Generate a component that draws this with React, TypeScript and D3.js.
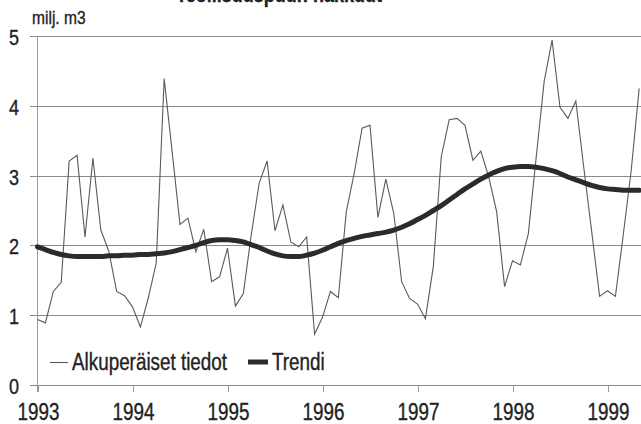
import { useEffect, useRef } from 'react';
import * as d3 from 'd3';

// monthly values from Jan 1993, milj. m3
const startYear = 1993;
const original = [
  0.94, 0.89, 1.34, 1.47, 3.21, 3.29, 2.12, 3.25, 2.22, 1.92, 1.34, 1.28,
  1.12, 0.83, 1.25, 1.75, 4.39, 3.35, 2.3, 2.39, 1.91, 2.23, 1.48, 1.55,
  1.96, 1.13, 1.31, 2.15, 2.89, 3.21, 2.21, 2.58, 2.05, 1.98, 2.12, 0.73,
  0.97, 1.34, 1.25, 2.48, 3.03, 3.68, 3.72, 2.4, 2.95, 2.46, 1.48, 1.24,
  1.16, 0.95, 1.7, 3.27, 3.8, 3.82, 3.72, 3.22, 3.35, 2.98, 2.48, 1.41,
  1.78, 1.72, 2.17, 3.27, 4.35, 4.94, 3.98, 3.82, 4.07, 3.12, 2.2, 1.27,
  1.35, 1.27, 2.16, 3.08, 4.25,
];
const trend = [
  1.98, 1.94, 1.9, 1.87, 1.85, 1.84, 1.84, 1.84, 1.84, 1.85, 1.85, 1.86,
  1.86, 1.87, 1.87, 1.88, 1.89, 1.91, 1.94, 1.97, 2.0, 2.04, 2.07, 2.08,
  2.08, 2.07, 2.05, 2.01, 1.97, 1.92, 1.88, 1.85, 1.84, 1.84, 1.86, 1.89,
  1.93, 1.98, 2.03, 2.07, 2.1, 2.13, 2.15, 2.17, 2.19, 2.22, 2.26, 2.31,
  2.37, 2.43, 2.5, 2.57, 2.65, 2.73, 2.81, 2.88, 2.95, 3.01, 3.06, 3.1,
  3.12, 3.13, 3.13, 3.12, 3.1, 3.07, 3.03, 2.98, 2.94, 2.9, 2.86, 2.83,
  2.81, 2.8, 2.79, 2.79, 2.79,
];
const yearTicks = [1993, 1994, 1995, 1996, 1997, 1998, 1999];
const valueTicks = [0, 1, 2, 3, 4, 5];
const title = 'Teollisuuspuun hakkuut';
const unitLabel = 'milj. m3';
const legendLabels = ['Alkuperäiset tiedot', 'Trendi'];

const W = 641;
const H = 424;
const FONT = '"Liberation Sans", Arial, sans-serif';
const NARROW = 0.82; // squeeze Liberation Sans to look like a condensed face

type G = d3.Selection<SVGGElement | SVGSVGElement, unknown, null, undefined>;

// condensed text helper
function label(
  g: G,
  x: number,
  y: number,
  text: string,
  size: number,
  anchor = 'start',
  weight = 'normal'
) {
  g.append('text')
    .attr('transform', `translate(${x},${y}) scale(${NARROW},1)`)
    .attr('text-anchor', anchor)
    .style('font-family', FONT)
    .style('font-size', `${size}px`)
    .style('font-weight', weight)
    .attr('fill', '#222')
    .attr('stroke', '#222')
    .attr('stroke-width', 0.35)
    .text(text);
}

export default function App() {
  const svgRef = useRef<SVGSVGElement>(null);

  useEffect(() => {
    if (!svgRef.current) return;
    d3.select(svgRef.current).selectAll('*').remove();

    const svg = d3.select(svgRef.current).attr('width', W).attr('height', H);

    const x = d3.scaleLinear().domain([1993, 1999]).range([37.5, 607.5]);
    const y = d3.scaleLinear().domain([0, 5]).range([385, 36]);

    svg.append('rect').attr('width', W).attr('height', H).attr('fill', '#fff');

    // title, cut off at the top as in the source
    label(svg as G, 279, 1.5, title, 22, 'middle', 'bold');

    // horizontal grid
    svg
      .append('g')
      .selectAll('line')
      .data(valueTicks)
      .enter()
      .append('line')
      .attr('x1', 30)
      .attr('x2', W)
      .attr('y1', (d) => Math.round(y(d)) + 0.5)
      .attr('y2', (d) => Math.round(y(d)) + 0.5)
      .attr('stroke', '#8a8a8a')
      .attr('stroke-width', 1);

    const yl = svg.append('g') as unknown as G;
    valueTicks.forEach((d) => label(yl, 19, y(d) + 9, String(d), 22, 'end'));

    // y axis line
    svg
      .append('line')
      .attr('x1', 37.5)
      .attr('x2', 37.5)
      .attr('y1', y(5))
      .attr('y2', y(0) + 7)
      .attr('stroke', '#9a9a9a');

    // x ticks + labels
    const xg = svg.append('g');
    xg.selectAll('line')
      .data(yearTicks)
      .enter()
      .append('line')
      .attr('x1', (d) => Math.round(x(d)) + 0.5)
      .attr('x2', (d) => Math.round(x(d)) + 0.5)
      .attr('y1', y(0))
      .attr('y2', y(0) + 7)
      .attr('stroke', '#9a9a9a');
    yearTicks.forEach((d) => label(xg as unknown as G, x(d) + 1, 420, String(d), 23, 'middle'));

    // unit label
    label(svg as G, 32, 24, unitLabel, 19);

    const monthX = (i: number) => x(startYear + i / 12);

    svg
      .append('clipPath')
      .attr('id', 'plot-clip')
      .append('rect')
      .attr('x', 0)
      .attr('y', 0)
      .attr('width', W)
      .attr('height', H);

    const plot = svg.append('g').attr('clip-path', 'url(#plot-clip)');

    const rawLine = d3
      .line<number>()
      .x((_, i) => monthX(i))
      .y((d) => y(d));

    plot
      .append('path')
      .datum(original)
      .attr('d', rawLine)
      .attr('fill', 'none')
      .attr('stroke', '#5a5a5a')
      .attr('stroke-width', 1.1)
      .attr('stroke-linejoin', 'miter');

    const trendLine = d3
      .line<number>()
      .x((_, i) => monthX(i))
      .y((d) => y(d))
      .curve(d3.curveMonotoneX);

    plot
      .append('path')
      .datum(trend)
      .attr('d', trendLine)
      .attr('fill', 'none')
      .attr('stroke', '#2b2b2b')
      .attr('stroke-width', 5)
      .attr('stroke-linecap', 'round');

    // legend
    const leg = svg.append('g');
    leg.append('line')
      .attr('x1', 50)
      .attr('x2', 68)
      .attr('y1', 362.5)
      .attr('y2', 362.5)
      .attr('stroke', '#5a5a5a')
      .attr('stroke-width', 1.1);
    label(leg as unknown as G, 72, 370, legendLabels[0], 23);
    leg.append('line')
      .attr('x1', 248)
      .attr('x2', 268)
      .attr('y1', 362)
      .attr('y2', 362)
      .attr('stroke', '#2b2b2b')
      .attr('stroke-width', 5);
    label(leg as unknown as G, 272, 370, legendLabels[1], 23);
  }, []);

  return (
    <svg
      ref={svgRef}
      style={{ position: 'absolute', left: 0, top: 0, display: 'block' }}
    />
  );
}
